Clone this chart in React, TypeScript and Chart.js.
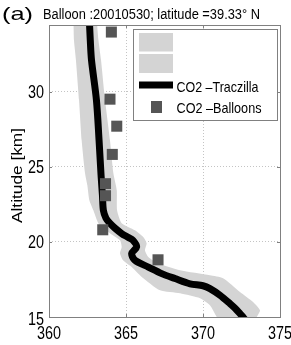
import React, { useEffect, useRef } from "react";
import { Chart, registerables } from "chart.js";

Chart.register(...registerables);

// ---------- text ----------
const panelLabel = "(a)";
const titleText = "Balloon :20010530; latitude =39.33° N";
const yAxisTitle = "Altitude [km]";
const legendLabels = ["CO2 –Traczilla", "CO2 –Balloons"];

// ---------- axes ----------
const xTicks = [360, 365, 370, 375];
const yTicks = [15, 20, 25, 30];
const xMin = 360;
const xMax = 375;
const yMin = 15;
const yMax = 34.45;

// ---------- TRACZILLA CO2 profile (ppmv) vs altitude (km) ----------
const traczillaAlt = [34.78, 33.45, 32.11, 29.45, 26.78, 24.45, 23.11, 22.11, 21.58, 21.23, 20.91, 20.56, 20.31, 20.11, 19.67, 19.23, 18.78, 18.33, 17.89, 17.56, 17.21, 17.08, 16.89, 16.45, 15.89, 15.58, 15.23, 15.0, 14.8];
const traczillaCO2 = [362.62, 362.68, 362.76, 363.08, 363.25, 363.38, 363.47, 363.53, 363.7, 363.96, 364.29, 364.72, 365.13, 365.45, 365.69, 365.37, 365.58, 366.45, 367.32, 368.18, 369.16, 370.0, 370.45, 371.1, 371.75, 372.08, 372.4, 372.6, 372.75];

// ---------- uncertainty envelope (left and right edges) ----------
const bandLeftAlt = [34.78, 33.45, 32.11, 29.45, 26.78, 24.58, 23.78, 22.78, 22.11, 21.25, 20.91, 20.58, 20.11, 19.67, 19.25, 18.78, 18.33, 17.67, 16.78, 16.58, 16.25, 15.78, 15.0, 14.8];
const bandLeftCO2 = [361.59, 361.62, 361.75, 361.95, 362.12, 362.34, 362.49, 362.62, 362.88, 363.2, 363.57, 363.96, 364.61, 364.72, 364.61, 364.81, 365.37, 366.02, 367.21, 368.51, 369.81, 370.45, 370.89, 371.0];
const bandRightAlt = [34.78, 33.45, 32.11, 29.45, 26.78, 24.58, 23.45, 22.11, 21.25, 20.78, 20.33, 19.91, 19.45, 19.0, 18.58, 18.11, 17.78, 17.58, 16.67, 16.0, 15.45, 15.0, 14.8];
const bandRightCO2 = [363.1, 363.21, 363.38, 363.64, 363.96, 364.18, 364.4, 364.42, 364.72, 365.58, 366.12, 366.34, 366.23, 366.45, 367.08, 368.51, 370.45, 371.3, 372.4, 373.25, 373.7, 373.49, 373.4];

// ---------- balloon measurements ----------
const balloonAlt = [33.98, 29.51, 27.71, 25.83, 23.88, 23.08, 20.81, 18.81];
const balloonCO2 = [364.05, 363.96, 364.4, 364.11, 363.67, 363.67, 363.49, 367.08];

// ---------- styles ----------
const FONT = "'Liberation Sans', Arial, sans-serif";
const BAND_COLOR = "#d4d4d4";
const LINE_COLOR = "#000000";
const BALLOON_COLOR = "#555555";
const FRAME_COLOR = "#808080";
const GRID_COLOR = "#c4c4c4";
const TICK_SIZE = 18;
const TICK_SQUEEZE = 0.8;

// draw text at a given font size, squeezed/stretched horizontally
function drawScaled(
  ctx: CanvasRenderingContext2D,
  text: string,
  x: number,
  y: number,
  size: number,
  sx: number,
  align: "left" | "center" | "right" = "left"
) {
  ctx.font = `${size}px ${FONT}`;
  ctx.save();
  ctx.translate(x, y);
  ctx.scale(sx, 1);
  ctx.textAlign = align;
  ctx.textBaseline = "alphabetic";
  ctx.fillText(text, 0, 0);
  ctx.restore();
}

function drawFitted(
  ctx: CanvasRenderingContext2D,
  text: string,
  x: number,
  y: number,
  size: number,
  width: number,
  align: "left" | "center" | "right" = "left"
) {
  ctx.font = `${size}px ${FONT}`;
  const w = ctx.measureText(text).width;
  drawScaled(ctx, text, x, y, size, width / w, align);
}

const decorPlugin = {
  id: "decor",
  afterDraw(chart: any) {
    const ctx: CanvasRenderingContext2D = chart.ctx;
    const ca = chart.chartArea;
    const xs = chart.scales.x;
    const ys = chart.scales.y;
    ctx.save();

    // frame
    ctx.strokeStyle = FRAME_COLOR;
    ctx.lineWidth = 1;
    ctx.setLineDash([]);
    ctx.strokeRect(Math.round(ca.left) + 0.5, Math.round(ca.top) + 0.5, Math.round(ca.right - ca.left), Math.round(ca.bottom - ca.top));

    // inward tick marks on all sides
    const tl = 3;
    ctx.beginPath();
    xTicks.forEach((v) => {
      const px = Math.round(xs.getPixelForValue(v)) + 0.5;
      ctx.moveTo(px, ca.bottom);
      ctx.lineTo(px, ca.bottom - tl);
      ctx.moveTo(px, ca.top);
      ctx.lineTo(px, ca.top + tl);
    });
    yTicks.forEach((v) => {
      const py = Math.round(ys.getPixelForValue(v)) + 0.5;
      ctx.moveTo(ca.left, py);
      ctx.lineTo(ca.left + tl, py);
      ctx.moveTo(ca.right, py);
      ctx.lineTo(ca.right - tl, py);
    });
    ctx.stroke();

    // tick labels
    ctx.fillStyle = "#000";
    xTicks.forEach((v) => {
      drawScaled(ctx, String(v), xs.getPixelForValue(v), ca.bottom + 22, TICK_SIZE, TICK_SQUEEZE, "center");
    });
    yTicks.forEach((v) => {
      const py = ys.getPixelForValue(v);
      const off = v === yMin ? 8 : 6.5;
      drawScaled(ctx, String(v), ca.left - 5, py + off, TICK_SIZE, TICK_SQUEEZE, "right");
    });

    // legend box
    const lx = ca.left + 84;
    const ly = ca.top + 4;
    const lw = ca.right - 3 - lx;
    const lh = 91;
    ctx.fillStyle = "#ffffff";
    ctx.fillRect(lx, ly, lw, lh);
    ctx.strokeStyle = FRAME_COLOR;
    ctx.strokeRect(Math.round(lx) + 0.5, Math.round(ly) + 0.5, Math.round(lw), Math.round(lh));
    const sx = lx + 6;
    const sw = 34;
    ctx.fillStyle = BAND_COLOR;
    ctx.fillRect(sx, ly + 4, sw, 18.5);
    ctx.fillRect(sx, ly + 25, sw, 19);
    ctx.fillStyle = LINE_COLOR;
    ctx.fillRect(sx, ly + 52.5, sw, 7);
    ctx.fillStyle = BALLOON_COLOR;
    ctx.fillRect(sx + 12, ly + 72, 11, 12);
    ctx.fillStyle = "#000";
    drawFitted(ctx, legendLabels[0], sx + 37.5, ly + 62.5, 14.5, 82);
    drawFitted(ctx, legendLabels[1], sx + 37.5, ly + 84, 14.5, 85);

    // title
    drawFitted(ctx, panelLabel, 2, 20, 19, 31);
    drawFitted(ctx, titleText, 43, 19, 14, 217);

    // y axis title
    ctx.save();
    ctx.translate(22, 175.5);
    ctx.rotate(-Math.PI / 2);
    drawFitted(ctx, yAxisTitle, 0, 0, 15.5, 95, "center");
    ctx.restore();

    ctx.restore();
  },
};

export default function App() {
  const canvasRef = useRef<HTMLCanvasElement | null>(null);

  useEffect(() => {
    const canvas = canvasRef.current;
    if (!canvas) return;

    const bandPolygon = [
      ...bandLeftAlt.map((a, i) => ({ x: bandLeftCO2[i], y: a })),
      ...bandRightAlt.map((a, i) => ({ x: bandRightCO2[i], y: a })).reverse(),
    ];
    const traczilla = traczillaAlt.map((a, i) => ({ x: traczillaCO2[i], y: a }));
    const balloons = balloonAlt.map((a, i) => ({ x: balloonCO2[i], y: a }));

    const gridColor = (edgeVals: number[]) => (c: any) =>
      edgeVals.includes(c.tick?.value) ? "rgba(0,0,0,0)" : GRID_COLOR;

    const chart = new Chart(canvas, {
      type: "line",
      data: {
        datasets: [
          {
            label: "balloons",
            data: balloons,
            showLine: false,
            pointStyle: "rect",
            pointRadius: 7.8,
            pointBorderWidth: 0,
            pointBackgroundColor: BALLOON_COLOR,
            backgroundColor: BALLOON_COLOR,
            borderWidth: 0,
            order: 0,
          } as any,
          {
            label: "traczilla",
            data: traczilla,
            borderColor: LINE_COLOR,
            borderWidth: 7,
            borderJoinStyle: "round",
            borderCapStyle: "round",
            pointRadius: 0,
            tension: 0.3,
            fill: false,
            clip: 0,
            order: 1,
          } as any,
          {
            label: "band",
            data: bandPolygon,
            borderWidth: 0,
            borderColor: "rgba(0,0,0,0)",
            backgroundColor: BAND_COLOR,
            pointRadius: 0,
            tension: 0.2,
            fill: "shape",
            clip: 0,
            order: 2,
          } as any,
        ],
      },
      options: {
        responsive: false,
        animation: false,
        devicePixelRatio: 1,
        layout: { padding: { left: 0, top: 25, right: 11, bottom: 0 } },
        plugins: {
          legend: { display: false },
          title: { display: false },
          tooltip: { enabled: false },
        },
        scales: {
          x: {
            type: "linear",
            min: xMin,
            max: xMax,
            afterBuildTicks: (axis: any) => {
              axis.ticks = xTicks.map((v) => ({ value: v }));
            },
            afterFit: (scale: any) => {
              scale.height = 28;
              scale.paddingLeft = 0;
              scale.paddingRight = 0;
            },
            ticks: { display: false },
            grid: { color: gridColor([xMin, xMax]), lineWidth: 1, drawTicks: false },
            border: { display: false, dash: [1, 2] },
          },
          y: {
            type: "linear",
            min: yMin,
            max: yMax,
            afterBuildTicks: (axis: any) => {
              axis.ticks = yTicks.map((v) => ({ value: v }));
            },
            afterFit: (scale: any) => {
              scale.width = 49;
              scale.paddingTop = 0;
              scale.paddingBottom = 0;
            },
            ticks: { display: false },
            grid: { color: gridColor([yMin]), lineWidth: 1, drawTicks: false },
            border: { display: false, dash: [1, 2] },
          },
        },
      } as any,
      plugins: [decorPlugin],
    });

    return () => chart.destroy();
  }, []);

  return (
    <div style={{ position: "absolute", left: 0, top: 0, width: 291, height: 345, background: "#fff" }}>
      <canvas ref={canvasRef} width={291} height={345} style={{ display: "block", width: 291, height: 345 }} />
    </div>
  );
}
